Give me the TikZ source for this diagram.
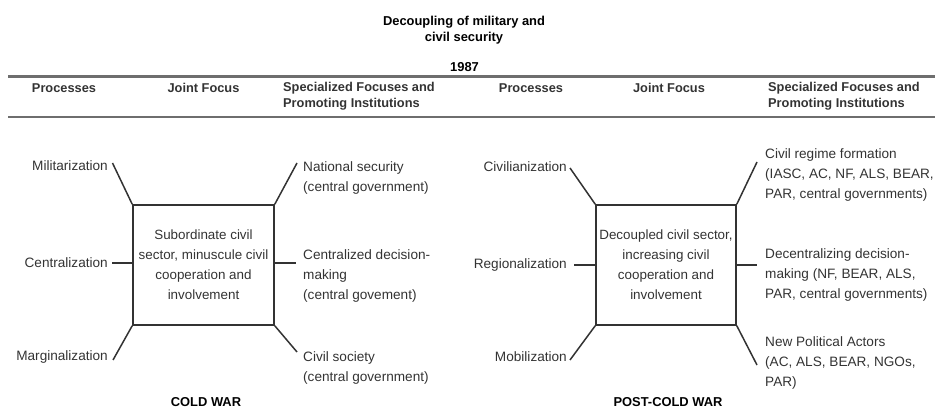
\documentclass[tikz,border=0pt]{standalone}
\usepackage{fontspec}
\setmainfont{Liberation Sans}
\definecolor{ink}{HTML}{333333}
\definecolor{rulegray}{HTML}{6E6E6E}
\begin{document}
\begin{tikzpicture}[x=1pt,y=-1pt,
  lbl/.style={inner sep=0pt, font=\fontsize{13.6}{19.8}\selectfont, text=ink, align=left},
  hdr/.style={inner sep=0pt, font=\fontsize{12.8}{16}\selectfont\bfseries, text=ink, align=left},
  ttl/.style={inner sep=0pt, font=\fontsize{12.9}{16}\selectfont\bfseries, text=black, align=center},
  era/.style={inner sep=0pt, font=\fontsize{12.9}{16}\selectfont\bfseries, text=black},
  focusbox/.style={draw=ink, line width=1.6pt, minimum height=120pt, inner sep=0pt,
    align=center, font=\fontsize{13.4}{20}\selectfont, text=ink},
  conn/.style={draw=ink, line width=1.5pt},
  hrule/.style={draw=rulegray, line width=2.2pt}
]
\useasboundingbox (0,0) rectangle (939,411);

% title
\node[ttl] (title) at (464,30) {Decoupling of military and\\civil security};
\node[ttl] (year) at (464.5,67) {1987};

% rules
\coordinate (r1a) at (8,76.5);
\coordinate (r1b) at (935,76.5);
\coordinate (r2a) at (8,117);
\coordinate (r2b) at (935,117);
\draw[hrule] (r1a) -- (r1b);
\draw[hrule] (r2a) -- (r2b);

% headers
\node[hdr, anchor=center] (hp1) at (64,88) {Processes};
\node[hdr, anchor=center] (hj1) at (203.5,88) {Joint Focus};
\node[hdr, anchor=west] (hs1) at (283,96) {Specialized Focuses and\\Promoting Institutions};
\node[hdr, anchor=center] (hp2) at (531,88) {Processes};
\node[hdr, anchor=center] (hj2) at (669,88) {Joint Focus};
\node[hdr, anchor=west] (hs2) at (768,96) {Specialized Focuses and\\Promoting Institutions};

% ===== COLD WAR =====
\node[focusbox, minimum width=141pt] (boxA) at (203.5,265)
  {Subordinate civil\\sector, minuscule civil\\cooperation and\\involvement};

\node[lbl, anchor=east] (mil) at (108,166) {Militarization};
\node[lbl, anchor=east] (cen) at (108,263) {Centralization};
\node[lbl, anchor=east] (mar) at (108,357) {Marginalization};
\node[lbl, anchor=west] (nat) at (303,178) {National security\\(central government)};
\node[lbl, anchor=west] (cdm) at (303,276) {Centralized decision-\\making\\(central govement)};
\node[lbl, anchor=west] (cso) at (303,368) {Civil society\\(central government)};

\coordinate (aTL) at (112.5,163);
\coordinate (aML) at (112,263);
\coordinate (aBL) at (113,360);
\coordinate (aTR) at (297,163);
\coordinate (aMR) at (296,263);
\coordinate (aBR) at (297,352);

\draw[conn] (boxA.north west) -- (aTL);
\draw[conn] (boxA.west |- aML) -- (aML);
\draw[conn] (boxA.south west) -- (aBL);
\draw[conn] (boxA.north east) -- (aTR);
\draw[conn] (boxA.east |- aMR) -- (aMR);
\draw[conn] (boxA.south east) -- (aBR);

\node[era] (cw) at (206,402) {COLD WAR};

% ===== POST-COLD WAR =====
\node[focusbox, minimum width=140pt] (boxB) at (666,265)
  {Decoupled civil sector,\\increasing civil\\cooperation and\\involvement};

\node[lbl, anchor=east] (civz) at (567,167) {Civilianization};
\node[lbl, anchor=east] (reg) at (567,265) {Regionalization};
\node[lbl, anchor=east] (mob) at (567,357) {Mobilization};
\node[lbl, anchor=west] (crf) at (765,175) {Civil regime formation\\(IASC, AC, NF, ALS, BEAR,\\PAR, central governments)};
\node[lbl, anchor=west] (ddm) at (765,275) {Decentralizing decision-\\making (NF, BEAR, ALS,\\PAR, central governments)};
\node[lbl, anchor=west] (npa) at (765,363) {New Political Actors\\(AC, ALS, BEAR, NGOs,\\PAR)};

\coordinate (bTL) at (570,168);
\coordinate (bML) at (574,265);
\coordinate (bBL) at (570,360);
\coordinate (bTR) at (757,162);
\coordinate (bMR) at (757,265);
\coordinate (bBR) at (757,365);

\draw[conn] (boxB.north west) -- (bTL);
\draw[conn] (boxB.west |- bML) -- (bML);
\draw[conn] (boxB.south west) -- (bBL);
\draw[conn] (boxB.north east) -- (bTR);
\draw[conn] (boxB.east |- bMR) -- (bMR);
\draw[conn] (boxB.south east) -- (bBR);

\node[era] (pcw) at (668,402) {POST-COLD WAR};
\end{tikzpicture}
\end{document}
